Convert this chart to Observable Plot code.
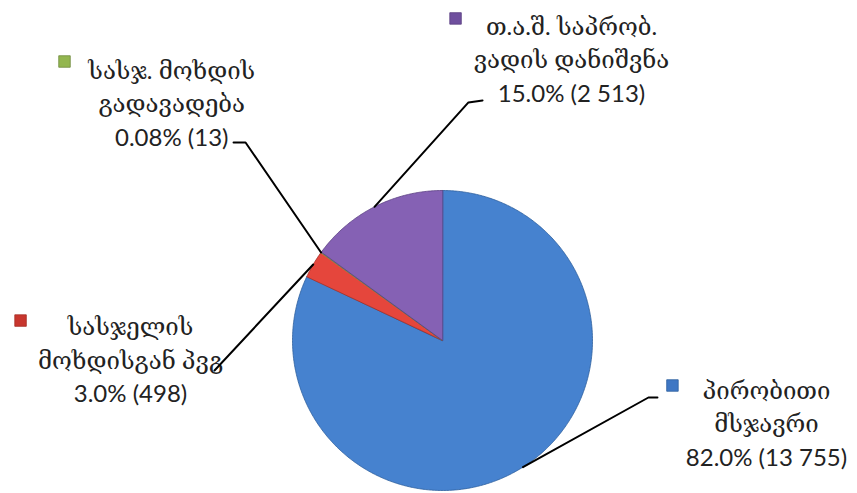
<!DOCTYPE html>
<html>
<head>
<meta charset="utf-8">
<script src="https://cdn.jsdelivr.net/npm/d3@7"></script>
<script src="https://cdn.jsdelivr.net/npm/@observablehq/plot@0.6"></script>
<style>
  html, body { margin: 0; padding: 0; background: #fff; }
  #chart svg { display: block; }
</style>
</head>
<body>
<div id="chart"></div>
<script>
// ---- data ----
const categories = ["პირობითი\nმსჯავრი", "სასჯელის\nმოხდისგან პვგ", "სასჯ. მოხდის\nგადავადება", "თ.ა.შ. საპრობ.\nვადის დანიშვნა"];
const counts = [13755, 498, 13, 2513];
const percentLabels = ["82.0%", "3.0%", "0.08%", "15.0%"];
const countLabels = ["13 755", "498", "13", "2 513"];

// ---- styling / layout ----
const sliceFill = ["#4682cf", "#e5463c", "#9bbb59", "#8561b4"];
const sliceEdge = ["#2d5f9e", "#a42d25", "#6f8a3c", "#5a3f82"];
const markerFill = ["#3f77c4", "#c8362e", "#93b64f", "#6f4f9e"];
// label placement in radius units (center of pie = 0,0, y up)
const labelCenter = [[2.16, -0.54], [-2.08, -0.115], [-1.805, 1.593], [0.86, 1.887]];
const markerPos = [[1.533, -0.30], [-2.813, 0.133], [-2.52, 1.86], [0.087, 2.147]];
const leaderElbow = [[1.373, -0.38], [-1.52, -0.20], [-1.313, 1.32], [0.173, 1.587]];
const leaderEnd = [[1.433, -0.38], [-1.52, -0.20], [-1.393, 1.32], [0.267, 1.60]];

const W = 857, H = 493, cx = 442, cy = 340, R = 150;

const arcs = d3.pie().sort(null).startAngle(0).endAngle(2 * Math.PI)(counts);

// polygon outline for each slice (center + arc)
const slices = arcs.map((a, i) => {
  const pts = [{x: 0, y: 0}];
  const n = Math.max(2, Math.ceil((a.endAngle - a.startAngle) / 0.01));
  for (let k = 0; k <= n; k++) {
    const t = a.startAngle + (a.endAngle - a.startAngle) * k / n;
    pts.push({x: Math.sin(t), y: Math.cos(t)});
  }
  return pts;
});

const leaders = arcs.map((a, i) => {
  const m = (a.startAngle + a.endAngle) / 2;
  return [
    {x: Math.sin(m), y: Math.cos(m)},
    {x: leaderElbow[i][0], y: leaderElbow[i][1]},
    {x: leaderEnd[i][0], y: leaderEnd[i][1]}
  ];
});

const labels = categories.map((c, i) => ({
  text: `${c}\n${percentLabels[i]} (${countLabels[i]})`,
  x: labelCenter[i][0], y: labelCenter[i][1]
}));
const markers = categories.map((c, i) => ({x: markerPos[i][0], y: markerPos[i][1], fill: markerFill[i], stroke: sliceEdge[i]}));

const chart = Plot.plot({
  width: W, height: H,
  margin: 0,
  x: {axis: null, domain: [-cx / R, (W - cx) / R]},
  y: {axis: null, domain: [(cy - H) / R, cy / R]},
  style: {background: "#fff"},
  marks: [
    ...slices.map((pts, i) => Plot.line(pts, {
      x: "x", y: "y", curve: "linear-closed",
      fill: sliceFill[i], stroke: sliceEdge[i], strokeWidth: 1, strokeOpacity: 0.8
    })),
    Plot.text(labels, {
      x: "x", y: "y", text: "text",
      fontSize: 24, lineHeight: 1.4, fill: "#222",
      fontFamily: "Lato, 'DejaVu Serif', 'DejaVu Sans', sans-serif",
      textAnchor: "middle", lineAnchor: "middle"
    }),
    Plot.dot(markers, {
      x: "x", y: "y", symbol: "square", r: 6.5,
      fill: d => d.fill, stroke: d => d.stroke, strokeWidth: 0.8
    }),
    ...leaders.map(pts => Plot.line(pts, {x: "x", y: "y", stroke: "#000", strokeWidth: 2}))
  ]
});
document.getElementById("chart").appendChild(chart);
</script>
</body>
</html>
